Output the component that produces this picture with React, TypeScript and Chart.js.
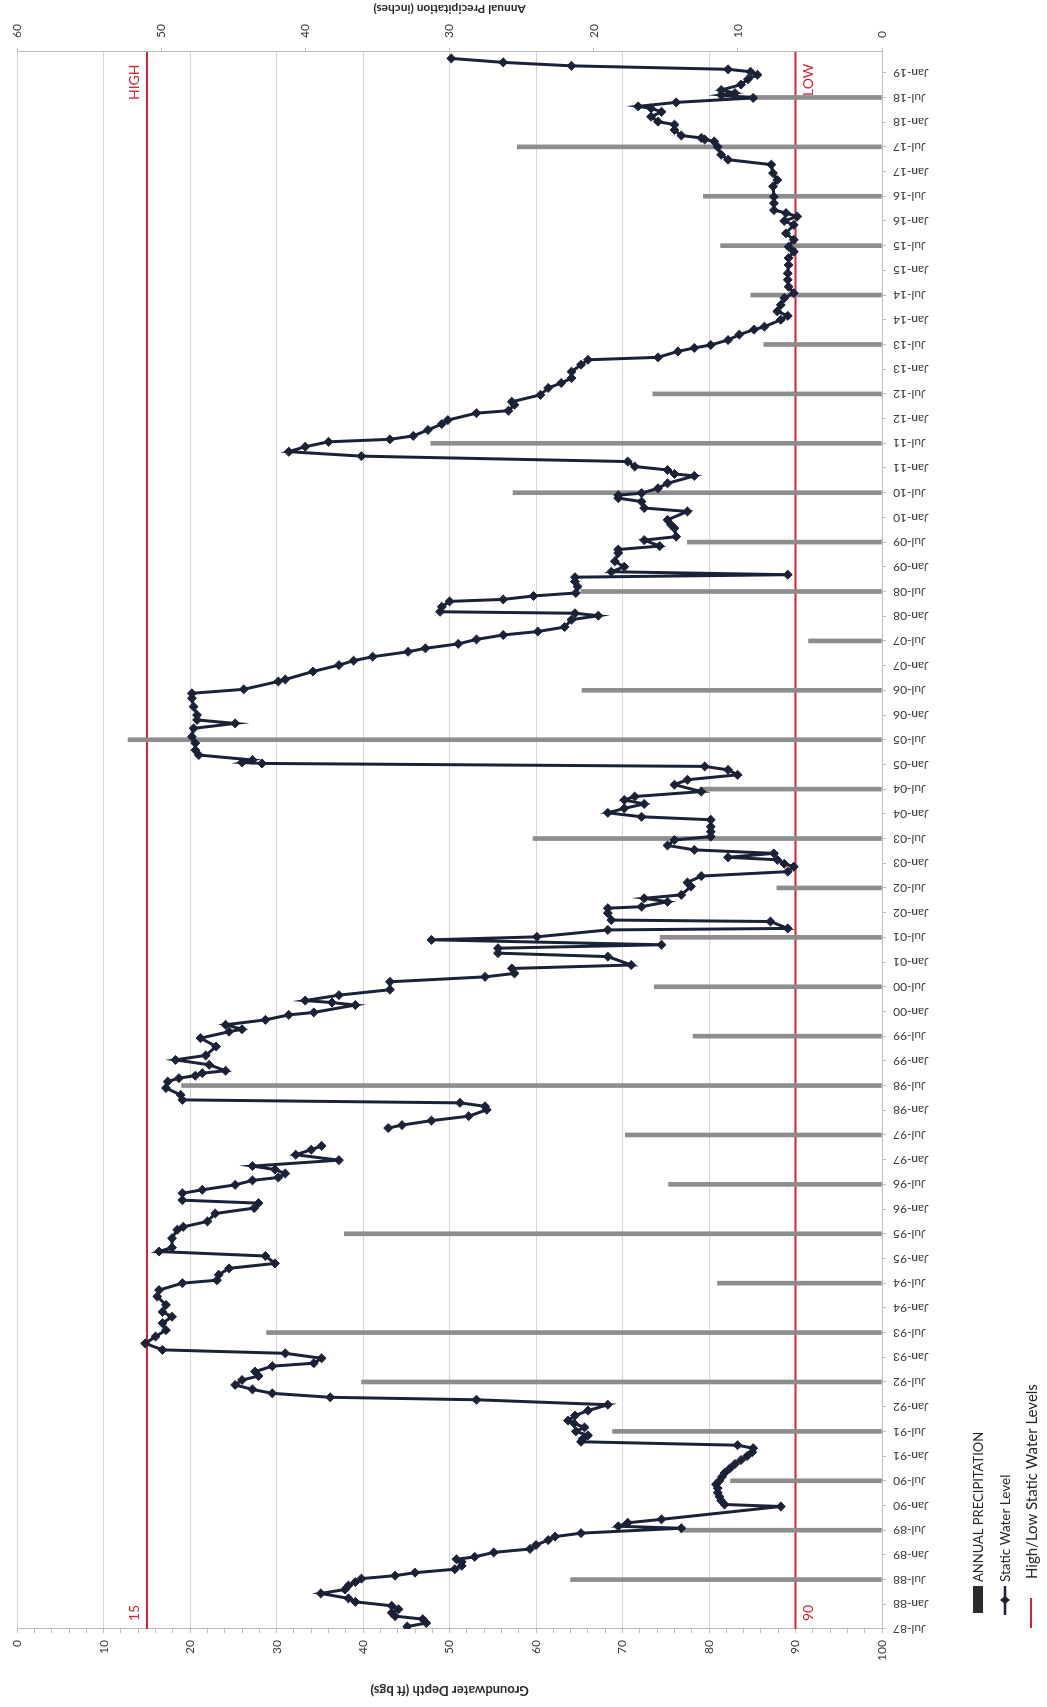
import React, { useEffect, useRef } from "react";
import { Chart, registerables } from "chart.js";

Chart.register(...registerables);

// Landscape chart canvas (rotated -90deg onto the portrait page)
const CW = 1707;
const CH = 1047;

// ---------------- DATA ----------------
// Annual precipitation (inches), plotted at July of each year
const precipDates = [
  1988.5, 1989.5, 1990.5, 1991.5, 1992.5, 1993.5, 1994.5, 1995.5, 1996.5, 1997.5,
  1998.5, 1999.5, 2000.5, 2001.5, 2002.5, 2003.5, 2004.5, 2005.5, 2006.5, 2007.5,
  2008.5, 2009.5, 2010.5, 2011.5, 2012.5, 2013.5, 2014.5, 2015.5, 2016.5, 2017.5, 2018.5,
];
const precipInches = [
  21.6, 14.0, 10.5, 18.7, 36.1, 42.7, 11.4, 37.3, 14.8, 17.8,
  48.6, 13.1, 15.8, 15.4, 7.3, 24.2, 12.6, 52.3, 20.8, 5.1,
  20.9, 13.5, 25.6, 31.3, 15.9, 8.2, 9.1, 11.2, 12.4, 25.3, 11.3,
];

// Static water level: decimal year and depth (ft bgs); null = gap in record
const wlDates = [
  1987.55, 1987.62, 1987.70, 1987.76, 1987.83, 1987.90, 1987.97, 1988.05, 1988.12, 1988.22,
  1988.30, 1988.38, 1988.45, 1988.52, 1988.58, 1988.64, 1988.71, 1988.78, 1988.86, 1988.91,
  1988.96, 1989.05, 1989.12, 1989.20, 1989.30, 1989.37, 1989.44, 1989.54, 1989.58, 1989.65,
  1989.72, 1989.98, 1990.02, 1990.10, 1990.18, 1990.26, 1990.35, 1990.43, 1990.50, 1990.58,
  1990.66, 1990.75, 1990.84, 1990.92, 1991.00, 1991.08, 1991.16, 1991.22, 1991.29, 1991.35,
  1991.42, 1991.50, 1991.58, 1991.66, 1991.72, 1991.82, 1991.92, 1992.04, 1992.14, 1992.19,
  1992.27, 1992.35, 1992.44, 1992.54, 1992.62, 1992.71, 1992.82, 1992.88, 1992.98, 1993.08,
  1993.15, 1993.28, 1993.42, 1993.55, 1993.69, 1993.82, 1993.92, 1994.06, 1994.23, 1994.36,
  1994.50, 1994.56, 1994.67, 1994.80, 1994.90, 1995.05, 1995.14, 1995.22, 1995.41, 1995.58,
  1995.64, 1995.75, 1995.91, 1996.02, 1996.12, 1996.18, 1996.32, 1996.39, 1996.49, 1996.58,
  1996.64, 1996.72, 1996.80, 1996.87, 1996.99, 1997.10, 1997.20, 1997.28, 1997.45, 1997.64,
  1997.70, 1997.79, 1997.88, 1998.01, 1998.08, 1998.15, 1998.21, 1998.31, 1998.45, 1998.58,
  1998.65, 1998.70, 1998.75, 1998.80, 1998.92, 1999.02, 1999.11, 1999.29, 1999.46, 1999.59,
  1999.64, 1999.73, 1999.83, 1999.93, 1999.98, 2000.13, 2000.18, 2000.22, 2000.33, 2000.44,
  2000.60, 2000.70, 2000.77, 2000.87, 2000.94, 2001.11, 2001.18, 2001.28, 2001.35, 2001.45,
  2001.51, 2001.65, 2001.68, 2001.82, 2001.85, 2001.99, 2002.09, 2002.12, 2002.22, 2002.29,
  2002.36, 2002.53, 2002.61, 2002.74, 2002.83, 2002.93, 2002.99, 2003.07, 2003.12, 2003.20,
  2003.27, 2003.36, 2003.47, 2003.54, 2003.64, 2003.74, 2003.88, 2003.94, 2004.02, 2004.11,
  2004.20, 2004.28, 2004.35, 2004.45, 2004.59, 2004.69, 2004.79, 2004.89, 2004.96, 2005.02,
  2005.04, 2005.09, 2005.19, 2005.29, 2005.43, 2005.56, 2005.73, 2005.83, 2005.90, 2006.00,
  2006.17, 2006.34, 2006.44, 2006.52, 2006.68, 2006.72, 2006.88, 2007.01, 2007.10, 2007.18,
  2007.28, 2007.35, 2007.44, 2007.53, 2007.62, 2007.69, 2007.78, 2007.93, 2008.01, 2008.06,
  2008.09, 2008.19, 2008.30, 2008.34, 2008.41, 2008.47, 2008.60, 2008.70, 2008.79, 2008.84,
  2008.90, 2009.00, 2009.11, 2009.28, 2009.35, 2009.42, 2009.54, 2009.61, 2009.78, 2009.85,
  2009.95, 2010.12, 2010.19, 2010.32, 2010.39, 2010.45, 2010.49, 2010.59, 2010.69, 2010.84,
  2010.88, 2010.96, 2011.03, 2011.13, 2011.24, 2011.33, 2011.43, 2011.53, 2011.58, 2011.65,
  2011.77, 2011.89, 2011.97, 2012.11, 2012.16, 2012.28, 2012.34, 2012.48, 2012.62, 2012.72,
  2012.82, 2012.95, 2013.09, 2013.19, 2013.24, 2013.36, 2013.43, 2013.49, 2013.59, 2013.70,
  2013.80, 2013.86, 2014.00, 2014.08, 2014.17, 2014.30, 2014.44, 2014.54, 2014.67, 2014.81,
  2014.94, 2015.11, 2015.25, 2015.38, 2015.48, 2015.62, 2015.75, 2015.92, 2016.00, 2016.09,
  2016.16, 2016.22, 2016.36, 2016.49, 2016.70, 2016.83, 2016.97, 2017.14, 2017.24, 2017.34,
  2017.50, 2017.61, 2017.65, 2017.68, 2017.73, 2017.84, 2017.95, 2018.01, 2018.11, 2018.21,
  2018.28, 2018.32, 2018.40, 2018.49, 2018.55, 2018.59, 2018.65, 2018.76, 2018.87, 2018.96,
  2019.02, 2019.07, 2019.14, 2019.21, 2019.29,
];
const wlDepths = [
  45.1, 47.3, 46.9, 43.7, 43.3, 44.1, 43.3, 39.1, 38.3, 35.1,
  37.9, 38.3, 39.1, 39.8, 43.7, 46.0, 50.6, 51.4, 51.4, 50.8,
  52.9, 55.1, 59.3, 60.0, 61.4, 62.2, 65.2, 76.8, 69.5, 70.6,
  74.5, 88.3, 81.8, 81.4, 81.2, 81.0, 81.0, 80.8, 81.2, 81.5,
  81.8, 82.4, 83.0, 83.7, 84.4, 85.0, 85.1, 83.3, 65.2, 65.4,
  66.0, 64.6, 65.6, 64.4, 63.7, 64.5, 66.0, 68.3, 53.1, 36.2,
  29.5, 27.2, 25.2, 26.0, 27.9, 27.5, 29.5, 34.3, 35.2, 31.0,
  16.8, 14.8, 16.0, 17.2, 16.8, 17.9, 16.8, 17.2, 16.2, 16.4,
  19.1, 23.1, 23.3, 24.5, 29.8, 28.7, 16.4, 17.9, 17.9, 18.5,
  19.2, 22.0, 22.9, 27.4, 27.9, 19.1, 19.1, 21.4, 25.2, 27.2,
  30.2, 31.0, 29.8, 27.2, 37.2, 32.2, 34.0, 35.2, null, 42.9,
  44.5, 47.9, 52.2, 54.3, 54.1, 51.2, 19.1, 18.9, 17.2, 17.4,
  18.7, 20.6, 21.4, 24.1, 22.2, 18.3, 21.8, 23.0, 21.2, 24.5,
  26.0, 24.1, 28.7, 31.4, 34.3, 39.1, 36.4, 33.3, 37.2, 43.1,
  43.1, 54.1, 57.5, 57.2, 71.0, 68.3, 55.6, 55.6, 74.5, 47.9,
  60.1, 68.3, 89.1, 87.1, 68.7, 68.3, 68.3, 72.2, 75.2, 72.5,
  76.8, 77.9, 77.5, 79.1, 89.1, 89.8, 88.7, 87.9, 82.2, 87.5,
  78.3, 75.2, 76.0, 80.2, 80.2, 80.2, 80.2, 72.2, 68.3, 70.2,
  72.5, 70.2, 71.4, 79.1, 76.0, 77.5, 83.3, 82.2, 79.5, 28.3,
  26.0, 27.2, 21.0, 20.6, 20.6, 20.2, 20.4, 25.2, 20.8, 20.8,
  20.4, 20.2, 20.2, 26.2, 30.2, 31.0, 34.2, 37.2, 38.9, 41.1,
  45.2, 47.2, 51.0, 53.1, 56.2, 60.2, 63.3, 64.1, 67.2, 64.5,
  48.9, 49.1, 50.0, 56.2, 59.7, 64.6, 64.8, 64.5, 64.5, 89.1,
  68.7, 70.2, 69.1, 69.5, 69.5, 74.3, 72.5, 76.2, 76.0, 75.6,
  75.2, 77.5, 72.5, 72.2, 69.5, 69.5, 72.2, 74.1, 75.2, 78.3,
  76.0, 75.2, 71.4, 70.6, 39.8, 31.4, 33.3, 36.0, 43.1, 45.8,
  47.5, 49.1, 49.8, 53.1, 56.8, 57.5, 57.2, 60.5, 61.4, 62.9,
  64.1, 64.1, 65.2, 66.0, 74.1, 76.4, 78.3, 80.2, 82.2, 83.5,
  85.2, 86.4, 88.3, 89.1, 87.9, 88.3, 88.7, 89.8, 89.2, 89.1,
  89.1, 89.2, 89.2, 89.8, 89.2, 89.8, 88.9, 89.8, 88.7, 90.2,
  88.9, 87.5, 87.5, 87.5, 87.4, 87.9, 87.4, 87.2, 82.2, 81.4,
  81.0, 80.6, 79.5, 79.1, 76.8, 76.0, 76.0, 74.1, 73.3, 74.5,
  73.3, 71.8, 76.2, 85.1, 81.4, 83.0, 81.4, 83.7, 84.5, 85.6,
  84.8, 82.2, 64.1, 56.2, 50.2,
];

const highLevel = 15;
const lowLevel = 90;

// Axis settings / tick labels
const dateAxisMin = 1987.5;
const dateAxisMax = 2019.42;
const dateTickMonths = ["Jan", "Jul"];
const dateTickFirst = 1987.5;
const dateTickLast = 2019.0;
const depthMin = 0;
const depthMax = 100;
const precipMin = 0;
const precipMax = 60;

const legendLabels = ["ANNUAL PRECIPITATION", "Static Water Level", "High/Low Static Water Levels"];
const depthTitle = "Groundwater Depth (ft bgs)";
const precipTitle = "Annual Precipitation (inches)";

// ---------------- STYLE ----------------
const LINE = "#1b2238";
const BAR = "#8d8d8d";
const RED = "#d62433";
const GRID = "#d6d6d6";
const AXIS = "#bdbdbd";
const TXT = "#3a3a3a";
const FONT = "Lato, 'Open Sans', sans-serif";

const dateTickValues: number[] = [];
for (let v = dateTickFirst; v <= dateTickLast + 1e-6; v += 0.5) dateTickValues.push(v);

function fmtDate(v: number): string {
  const yr = Math.floor(v + 1e-6);
  const half = v - yr > 0.25 ? 1 : 0;
  return `${dateTickMonths[half]}-${String(yr % 100).padStart(2, "0")}`;
}

const overlay = {
  id: "overlay",
  beforeDatasetsDraw(chart: any) {
    const { ctx, chartArea: a, scales } = chart;
    const yG = scales.yG;
    ctx.save();
    ctx.strokeStyle = RED;
    ctx.lineWidth = 2;
    for (const v of [highLevel, lowLevel]) {
      const y = yG.getPixelForValue(v);
      ctx.beginPath();
      ctx.moveTo(a.left, y);
      ctx.lineTo(a.right, y);
      ctx.stroke();
    }
    ctx.restore();
  },
  afterDraw(chart: any) {
    const { ctx, chartArea: a, scales } = chart;
    const yG = scales.yG;
    const yHigh = yG.getPixelForValue(highLevel);
    const yLow = yG.getPixelForValue(lowLevel);
    const cy = (a.top + a.bottom) / 2;
    ctx.save();
    // High / Low annotations
    ctx.fillStyle = RED;
    ctx.font = `14px ${FONT}`;
    ctx.textBaseline = "alphabetic";
    ctx.textAlign = "left";
    ctx.fillText("HIGH", 1607, yHigh - 8);
    ctx.fillText(String(highLevel), 86, yHigh - 8);
    ctx.fillText("LOW", 1611, yLow + 17);
    ctx.fillText(String(lowLevel), 86, yLow + 17);

    // Axis titles (both read bottom-to-top)
    ctx.fillStyle = "#2a2a2a";
    ctx.textAlign = "center";
    ctx.textBaseline = "middle";
    ctx.save();
    ctx.translate(17, cy);
    ctx.rotate(-Math.PI / 2);
    ctx.font = `bold 13px ${FONT}`;
    ctx.fillText(depthTitle, 0, 0);
    ctx.restore();
    ctx.save();
    ctx.translate(1698, cy);
    ctx.rotate(-Math.PI / 2);
    ctx.font = `bold 12px ${FONT}`;
    ctx.fillText(precipTitle, 0, 0);
    ctx.restore();

    // Legend
    ctx.textAlign = "left";
    ctx.textBaseline = "middle";
    ctx.fillStyle = "#2b2b2b";
    ctx.fillRect(94, 973, 27, 10);
    ctx.fillStyle = "#262626";
    ctx.font = `13px ${FONT}`;
    ctx.fillText(legendLabels[0], 125, 979);

    ctx.strokeStyle = LINE;
    ctx.lineWidth = 2.5;
    ctx.beginPath();
    ctx.moveTo(92, 1005);
    ctx.lineTo(121, 1005);
    ctx.stroke();
    ctx.fillStyle = LINE;
    ctx.beginPath();
    ctx.moveTo(107, 1000);
    ctx.lineTo(111, 1005);
    ctx.lineTo(107, 1010);
    ctx.lineTo(103, 1005);
    ctx.closePath();
    ctx.fill();
    ctx.fillStyle = "#262626";
    ctx.font = `13.5px ${FONT}`;
    ctx.fillText(legendLabels[1], 125, 1006);

    ctx.strokeStyle = RED;
    ctx.lineWidth = 2;
    ctx.beginPath();
    ctx.moveTo(79, 1031);
    ctx.lineTo(109, 1031);
    ctx.stroke();
    ctx.fillStyle = "#262626";
    ctx.font = `15px ${FONT}`;
    ctx.fillText(legendLabels[2], 128, 1032);
    ctx.restore();
  },
};

export default function App() {
  const ref = useRef<HTMLCanvasElement>(null);

  useEffect(() => {
    const canvas = ref.current;
    if (!canvas) return;
    Chart.defaults.font.family = FONT;
    const chart = new Chart(canvas, {
      type: "line",
      data: {
        datasets: [
          {
            type: "line",
            label: legendLabels[1],
            data: wlDates.map((x, i) => ({ x, y: wlDepths[i] })),
            xAxisID: "x",
            yAxisID: "yG",
            borderColor: LINE,
            backgroundColor: LINE,
            borderWidth: 3,
            pointStyle: "rectRot",
            pointRadius: 4.5,
            pointBorderWidth: 1,
            pointBackgroundColor: LINE,
            pointBorderColor: LINE,
            tension: 0,
            spanGaps: false,
            order: 0,
          } as any,
          {
            type: "bar",
            label: legendLabels[0],
            data: precipDates.map((x, i) => ({ x, y: precipInches[i] })),
            xAxisID: "x",
            yAxisID: "yP",
            backgroundColor: BAR,
            borderWidth: 0,
            barThickness: 4,
            order: 1,
          } as any,
        ],
      },
      options: {
        responsive: false,
        animation: false,
        devicePixelRatio: 1,
        layout: { padding: { top: 15, right: 0, bottom: 0, left: 0 } },
        plugins: { legend: { display: false }, tooltip: { enabled: false } },
        scales: {
          x: {
            type: "linear",
            position: "bottom",
            min: dateAxisMin,
            max: dateAxisMax,
            offset: false,
            grid: { offset: false, drawOnChartArea: false, tickLength: 4, tickColor: AXIS },
            border: { color: AXIS },
            afterBuildTicks: (s: any) => {
              s.ticks = dateTickValues.map((v) => ({ value: v }));
            },
            afterFit: (s: any) => {
              s.height = CH - 882;
            },
            ticks: {
              autoSkip: false,
              maxRotation: 90,
              minRotation: 90,
              padding: 7,
              color: TXT,
              font: { size: 12 },
              callback: (v: any) => fmtDate(Number(v)),
            },
          },
          yG: {
            type: "linear",
            position: "left",
            reverse: true,
            min: depthMin,
            max: depthMax,
            afterFit: (s: any) => {
              s.width = 78;
            },
            ticks: {
              stepSize: 2,
              autoSkip: false,
              padding: 7,
              color: TXT,
              font: { size: 12 },
              callback: (v: any) => (Number(v) % 10 === 0 ? String(v) : ""),
            },
            grid: {
              color: (c: any) => (c.tick && c.tick.value % 10 === 0 ? GRID : "rgba(0,0,0,0)"),
              tickColor: AXIS,
              tickLength: 4,
            },
            border: { color: AXIS },
          },
          yP: {
            type: "linear",
            position: "right",
            min: precipMin,
            max: precipMax,
            afterFit: (s: any) => {
              s.width = CW - 1655;
            },
            ticks: { stepSize: 10, padding: 10, color: TXT, font: { size: 12 } },
            grid: { drawOnChartArea: false, tickColor: AXIS, tickLength: 4 },
            border: { color: AXIS },
          },
        },
      } as any,
      plugins: [overlay],
    });
    return () => chart.destroy();
  }, []);

  return (
    <div
      style={{
        position: "fixed",
        left: 0,
        top: 0,
        width: 1047,
        height: 1707,
        overflow: "hidden",
        background: "#fff",
      }}
    >
      <div
        style={{
          position: "absolute",
          left: 0,
          top: 0,
          width: CW,
          height: CH,
          transformOrigin: "0 0",
          transform: `translateY(${CW}px) rotate(-90deg)`,
        }}
      >
        <canvas ref={ref} width={CW} height={CH} style={{ display: "block" }} />
      </div>
    </div>
  );
}
